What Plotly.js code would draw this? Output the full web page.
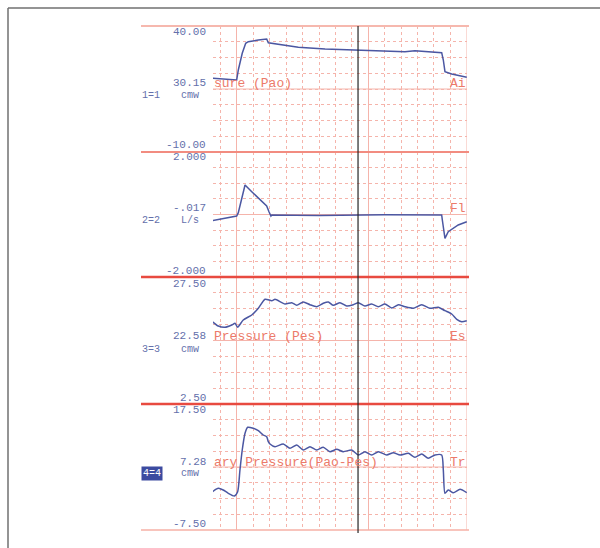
<!DOCTYPE html>
<html>
<head>
<meta charset="utf-8">
<script src="https://cdn.plot.ly/plotly-3.0.1.min.js"></script>
<style>
  html, body { margin: 0; padding: 0; background: #ffffff; }
  #chart { width: 600px; height: 548px; }
</style>
</head>
<body>
<div id="chart"></div>
<script>
// ---------- data (time in seconds, values in channel units) ----------
const timePao = [-0.15, -0.002, 0.008, 0.032, 0.053, 0.069, 0.130, 0.181, 0.191, 0.273, 0.374, 0.537, 0.730, 0.821, 1.024, 1.085, 1.248, 1.258, 1.268, 1.309, 1.401];
const pao     = [19.25, 18.57, 22.54, 29.17, 33.13, 33.77, 34.44, 34.84, 33.37, 32.46, 31.55, 30.87, 30.48, 30.08, 29.8, 30.2, 29.4, 26.5, 21.87, 20.95, 19.64];

const timeFlow = [-0.15, -0.002, 0.008, 0.049, 0.090, 0.140, 0.181, 0.195, 0.207, 0.212, 0.50, 0.90, 1.248, 1.252, 1.268, 1.288, 1.349, 1.401];
const flow     = [-0.198, -0.048, 0.058, 0.944, 0.73, 0.464, 0.272, 0.09, -0.048, -0.016, -0.03, -0.01, -0.016, -0.176, -0.762, -0.55, -0.336, -0.23];

const timePes = [-0.15, -0.114, -0.073, -0.032, -0.012, 0.004, 0.038, 0.090, 0.130, 0.171, 0.212, 0.232, 0.293, 0.334, 0.364, 0.404, 0.445, 0.486, 0.526, 0.557, 0.587, 0.628, 0.669, 0.709, 0.740, 0.780, 0.821, 0.862, 0.902, 0.943, 0.984, 1.024, 1.075, 1.126, 1.177, 1.227, 1.268, 1.309, 1.340, 1.370, 1.401];
const pes     = [18.70, 17.85, 17.60, 18.05, 18.39, 17.60, 19.04, 20.02, 21.34, 23.11, 22.83, 23.11, 22.19, 22.44, 21.93, 22.58, 22.05, 21.65, 22.32, 22.58, 21.93, 22.44, 21.79, 22.05, 22.44, 21.79, 22.19, 21.65, 22.19, 21.40, 22.05, 21.65, 21.34, 22.05, 21.34, 21.54, 20.87, 20.22, 19.17, 18.70, 18.90];

const timePtp = [-0.15, -0.114, -0.084, -0.053, -0.016, 0.004, 0.018, 0.032, 0.049, 0.065, 0.099, 0.130, 0.160, 0.181, 0.191, 0.201, 0.232, 0.282, 0.323, 0.364, 0.404, 0.445, 0.486, 0.526, 0.567, 0.608, 0.648, 0.699, 0.740, 0.780, 0.821, 0.862, 0.913, 0.953, 0.994, 1.045, 1.085, 1.126, 1.166, 1.207, 1.248, 1.258, 1.268, 1.288, 1.319, 1.360, 1.401];
const ptp     = [0.10, 0.77, 0.44, -0.22, -0.75, 0.10, 4.40, 8.37, 11.69, 12.88, 12.68, 12.20, 11.35, 11.01, 10.02, 9.56, 9.03, 9.56, 8.71, 9.37, 8.37, 9.03, 8.37, 8.91, 8.04, 8.51, 8.04, 8.37, 7.38, 8.04, 7.38, 8.04, 7.38, 7.84, 7.38, 7.72, 6.92, 7.58, 6.73, 7.38, 7.38, 4.40, -0.22, 0.44, -0.10, 0.58, -0.10];

const yRanges    = [[-10, 40], [-2, 2], [2.5, 27.5], [-7.5, 17.5]];
const topLabels  = ['40.00', '2.000', '27.50', '17.50'];
const midLabels  = ['30.15', '-.017', '22.58', '7.28'];
const botLabels  = ['-10.00', '-2.000', '2.50', '-7.50'];
const chanLabels = ['1=1', '2=2', '3=3', '4=4'];
const unitLabels = ['cmw', 'L/s', 'cmw', 'cmw'];
const leftNames  = ['sure (Pao)', '', 'Pressure (Pes)', 'ary Pressure(Pao-Pes)'];
const rightNames = ['Ai', 'Fl', 'Es', 'Tr'];
const cursorTime = 0.738;
const xRange = [-0.1463, 1.4024];

// ---------- layout helpers ----------
const W = 600, H = 548;
const px = v => v / W;
const py = v => 1 - v / H;
const panelPx = [[26, 152], [152, 277], [277, 404], [404, 530]];
const labelY = [ // [top, mid, chan, bottom] in pixels
  [32, 83, 95, 145],
  [157, 208, 221, 271],
  [284, 336, 349, 398],
  [410, 462, 473, 524]
];
const inPlotY = [83, 208, 336, 462];

const traceColor = '#4b57a2';
const gridColor = '#f5b4ab';
const textBlue = '#6470ab';
const textRed = '#ec7a6a';
const mono = 'Liberation Mono, DejaVu Sans Mono, monospace';

const series = [[timePao, pao], [timeFlow, flow], [timePes, pes], [timePtp, ptp]];
const traces = series.map((s, i) => ({
  x: s[0], y: s[1], type: 'scatter', mode: 'lines',
  xaxis: 'x', yaxis: i === 0 ? 'y' : 'y' + (i + 1),
  line: { color: traceColor, width: 1.5, shape: i >= 2 ? 'spline' : 'linear', smoothing: 0.6 },
  hoverinfo: 'skip', showlegend: false
}));

const layout = {
  width: W, height: H,
  margin: { l: 0, r: 0, t: 0, b: 0 },
  paper_bgcolor: '#ffffff', plot_bgcolor: 'rgba(0,0,0,0)',
  showlegend: false,
  xaxis: {
    domain: [px(213), px(467)], range: xRange, anchor: 'y4',
    showticklabels: false, ticks: '', zeroline: false, showline: false,
    showgrid: true, tick0: 0, dtick: 0.8, gridcolor: gridColor, gridwidth: 1,
    minor: { showgrid: true, tick0: 0, dtick: 0.1, gridcolor: gridColor, griddash: 'dot', gridwidth: 1, ticks: '' }
  },
  shapes: [], annotations: []
};

yRanges.forEach((r, i) => {
  const key = i === 0 ? 'yaxis' : 'yaxis' + (i + 1);
  const yref = i === 0 ? 'y' : 'y' + (i + 1);
  const p = panelPx[i];
  layout[key] = {
    domain: [py(p[1]), py(p[0])], range: r, anchor: 'x',
    showticklabels: false, ticks: '', zeroline: false, showline: false,
    showgrid: true, tick0: r[0], dtick: (r[1] - r[0]) / 8,
    gridcolor: gridColor, griddash: 'dot', gridwidth: 1
  };
  // middle solid line
  layout.shapes.push({ type: 'line', layer: 'below', xref: 'x domain', yref: yref,
    x0: 0, x1: 1, y0: (r[0] + r[1]) / 2, y1: (r[0] + r[1]) / 2,
    line: { color: gridColor, width: 1 } });

  const ly = labelY[i];
  const lab = (text, x, y, anchor, color, size, extra) => Object.assign({
    text: text, xref: 'paper', yref: 'paper', x: px(x), y: py(y),
    xanchor: anchor, yanchor: 'middle', showarrow: false,
    font: { family: mono, size: size, color: color }
  }, extra || {});
  layout.annotations.push(lab(topLabels[i], 208, ly[0], 'right', textBlue, 11));
  layout.annotations.push(lab(midLabels[i], 208, ly[1], 'right', textBlue, 11));
  layout.annotations.push(lab(botLabels[i], 208, ly[3], 'right', textBlue, 11));
  layout.annotations.push(lab(unitLabels[i], 179, ly[2], 'left', textBlue, 10));
  if (i === 3) {
    layout.annotations.push(lab(chanLabels[i], 141, ly[2], 'left', '#ffffff', 10,
      { bgcolor: '#3c4ba0', borderpad: 1 }));
  } else {
    layout.annotations.push(lab(chanLabels[i], 140, ly[2], 'left', textBlue, 10));
  }
  if (leftNames[i]) layout.annotations.push(lab(leftNames[i], 212, inPlotY[i], 'left', textRed, 13));
  layout.annotations.push(lab(rightNames[i], 468, inPlotY[i], 'right', textRed, 13));
});

// panel separator lines
const sepColors = ['#f6b8ae', '#f28c80', '#e84a40', '#e84a40', '#f6b0a6'];
const sepWidths = [2, 2, 2.5, 2.5, 1.5];
[26, 152, 277, 404, 530].forEach((y, i) => {
  layout.shapes.push({ type: 'line', layer: 'above', xref: 'paper', yref: 'paper',
    x0: px(141), x1: px(469), y0: py(y), y1: py(y),
    line: { color: sepColors[i], width: sepWidths[i] } });
});
// right edge
layout.shapes.push({ type: 'line', layer: 'below', xref: 'x', yref: 'paper',
  x0: xRange[1], x1: xRange[1], y0: py(530), y1: py(26), line: { color: gridColor, width: 1 } });
// cursor line
layout.shapes.push({ type: 'line', layer: 'above', xref: 'x', yref: 'paper',
  x0: cursorTime, x1: cursorTime, y0: py(533), y1: py(26), line: { color: '#262626', width: 1.2 } });
// outer frame (top and left)
layout.shapes.push({ type: 'line', xref: 'paper', yref: 'paper', x0: px(8), x1: 1, y0: py(8), y1: py(8),
  line: { color: '#707070', width: 1.5 } });
layout.shapes.push({ type: 'line', xref: 'paper', yref: 'paper', x0: px(8), x1: px(8), y0: 0, y1: py(8),
  line: { color: '#707070', width: 1.5 } });

Plotly.newPlot('chart', traces, layout, { displayModeBar: false, staticPlot: true });
</script>
</body>
</html>
